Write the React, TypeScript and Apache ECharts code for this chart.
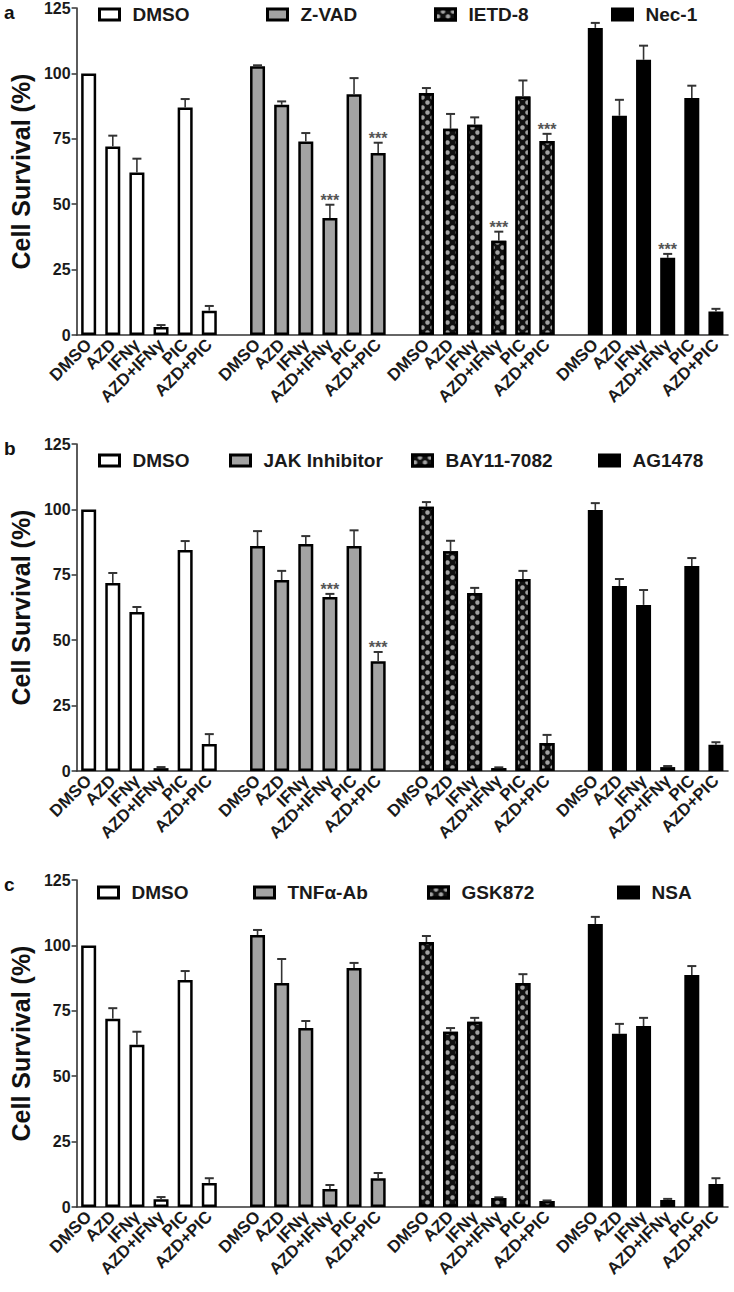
import React, { useEffect, useRef } from 'react';
import * as echarts from 'echarts';

const CONDITIONS = ['DMSO', 'AZD', 'IFNγ', 'AZD+IFNγ', 'PIC', 'AZD+PIC'];
const Y_TICKS = [0, 25, 50, 75, 100, 125];

// Panel a
const A_GROUPS = ['DMSO', 'Z-VAD', 'IETD-8', 'Nec-1'];
const A_DMSO = [100, 72.1, 62.1, 3.1, 87.0, 9.3];
const A_DMSO_ERR = [0, 4.1, 5.3, 0.7, 3.2, 1.8];
const A_ZVAD = [102.7, 88.0, 74.0, 44.7, 92.0, 69.6];
const A_ZVAD_ERR = [0.4, 1.3, 3.2, 5.1, 6.2, 3.9];
const A_IETD = [92.5, 78.8, 80.4, 36.0, 91.2, 74.2];
const A_IETD_ERR = [1.9, 5.7, 2.8, 3.5, 6.1, 2.7];
const A_NEC = [117.4, 83.8, 105.2, 29.5, 90.6, 9.0];
const A_NEC_ERR = [1.9, 6.1, 5.4, 1.5, 4.7, 1.0];
const A_STARS = [[], [3, 5], [3, 5], [3]];

// Panel b
const B_GROUPS = ['DMSO', 'JAK Inhibitor', 'BAY11-7082', 'AG1478'];
const B_DMSO = [100, 71.9, 60.8, 1.1, 84.5, 10.3];
const B_DMSO_ERR = [0, 3.8, 1.9, 0.4, 3.4, 3.8];
const B_JAK = [86.0, 73.0, 86.8, 66.5, 86.0, 42.0];
const B_JAK_ERR = [5.7, 3.5, 3.0, 1.2, 6.0, 3.5];
const B_BAY = [101.0, 84.0, 68.0, 1.1, 73.4, 10.7];
const B_BAY_ERR = [1.8, 4.0, 2.0, 0.3, 3.1, 3.1];
const B_AG = [99.8, 70.7, 63.5, 1.5, 78.4, 10.0];
const B_AG_ERR = [2.6, 2.7, 5.7, 0.4, 3.0, 1.0];
const B_STARS = [[], [3, 5], [], []];

// Panel c
const C_GROUPS = ['DMSO', 'TNFα-Ab', 'GSK872', 'NSA'];
const C_DMSO = [100, 72.0, 62.0, 3.0, 86.8, 9.2];
const C_DMSO_ERR = [0, 4.0, 5.0, 0.8, 3.4, 1.8];
const C_TNF = [104.0, 85.6, 68.4, 6.9, 91.4, 11.0];
const C_TNF_ERR = [1.9, 9.2, 2.7, 1.5, 1.9, 2.0];
const C_GSK = [101.3, 67.0, 70.8, 3.4, 85.6, 2.3];
const C_GSK_ERR = [2.3, 1.4, 1.5, 0.3, 3.4, 0.2];
const C_NSA = [108.2, 66.2, 69.2, 2.7, 88.7, 8.8];
const C_NSA_ERR = [2.7, 3.8, 3.1, 0.4, 3.4, 2.2];
const C_STARS = [[], [], [], []];

const FONT = '"Liberation Sans", Arial, Helvetica, sans-serif';

const PANELS = [
  {
    letter: 'a', top: 8, groups: A_GROUPS,
    values: [A_DMSO, A_ZVAD, A_IETD, A_NEC],
    errs: [A_DMSO_ERR, A_ZVAD_ERR, A_IETD_ERR, A_NEC_ERR],
    stars: A_STARS, legendLeft: [98, 266, 434, 611], legendCenter: 16,
  },
  {
    letter: 'b', top: 444, groups: B_GROUPS,
    values: [B_DMSO, B_JAK, B_BAY, B_AG],
    errs: [B_DMSO_ERR, B_JAK_ERR, B_BAY_ERR, B_AG_ERR],
    stars: B_STARS, legendLeft: [98, 229, 411, 598], legendCenter: 462,
  },
  {
    letter: 'c', top: 880, groups: C_GROUPS,
    values: [C_DMSO, C_TNF, C_GSK, C_NSA],
    errs: [C_DMSO_ERR, C_TNF_ERR, C_GSK_ERR, C_NSA_ERR],
    stars: C_STARS, legendLeft: [97, 253, 427, 617], legendCenter: 894,
  },
];

const GROUP_STYLES = [
  { color: '#ffffff' },
  { color: '#a3a3a3' },
  {
    color: '#111111',
    decal: {
      symbol: 'circle',
      symbolSize: 0.9,
      color: '#a2a2a2',
      dashArrayX: [[5, 5], [0, 5, 5, 0]],
      dashArrayY: [4.5, 0],
      rotation: 0,
    },
  },
  { color: '#000000' },
];

const CATEGORY_LABELS: string[] = [];
for (let g = 0; g < 4; g++) {
  for (let c = 0; c < CONDITIONS.length; c++) CATEGORY_LABELS.push(CONDITIONS[c]);
  if (g < 3) CATEGORY_LABELS.push('');
}

function buildOption() {
  const grid: any[] = [];
  const xAxis: any[] = [];
  const yAxis: any[] = [];
  const series: any[] = [];
  const legend: any[] = [];
  const graphic: any[] = [];

  PANELS.forEach((p, pi) => {
    grid.push({ left: 70, width: 658, top: p.top, height: 327 });
    xAxis.push({
      type: 'category',
      gridIndex: pi,
      data: CATEGORY_LABELS,
      boundaryGap: true,
      axisLine: { lineStyle: { color: '#333', width: 1.6 } },
      axisTick: { alignWithLabel: true, interval: 0, length: 5, lineStyle: { color: '#333', width: 1.5 } },
      axisLabel: {
        interval: 0, rotate: 45, margin: 7,
        fontFamily: FONT, fontWeight: 'bold', fontSize: 17, color: '#1a1a1a',
      },
      splitLine: { show: false },
    });
    yAxis.push({
      type: 'value',
      gridIndex: pi,
      min: Y_TICKS[0],
      max: Y_TICKS[Y_TICKS.length - 1],
      interval: 25,
      name: 'Cell Survival (%)',
      nameLocation: 'middle',
      nameRotate: 90,
      nameGap: 41,
      nameTextStyle: { fontFamily: FONT, fontWeight: 'bold', fontSize: 25, color: '#111' },
      axisLine: { show: true, lineStyle: { color: '#333', width: 1.6 } },
      axisTick: { show: true, length: 5, lineStyle: { color: '#333', width: 1.5 } },
      axisLabel: { fontFamily: FONT, fontWeight: 'bold', fontSize: 16, color: '#1a1a1a', margin: 6 },
      splitLine: { show: false },
    });

    const errData: any[] = [];
    p.groups.forEach((gname, g) => {
      const data: any[] = CATEGORY_LABELS.map(() => '-');
      p.values[g].forEach((v, c) => {
        const idx = g * 7 + c;
        data[idx] = v;
        const e = p.errs[g][c];
        errData.push([idx, v, v + e, p.stars[g].includes(c) ? 1 : 0]);
      });
      series.push({
        type: 'bar',
        name: gname,
        xAxisIndex: pi,
        yAxisIndex: pi,
        data,
        barWidth: 15,
        barGap: '-100%',
        itemStyle: { ...GROUP_STYLES[g], borderColor: '#000', borderWidth: 2.5 },
        z: 2,
      });
      legend.push({
        data: [gname],
        left: p.legendLeft[g],
        top: p.legendCenter - 11,
        padding: 0,
        icon: 'rect',
        itemWidth: 20,
        itemHeight: 11,
        selectedMode: false,
        itemStyle: { borderColor: '#000', borderWidth: 3 },
        textStyle: { fontFamily: FONT, fontWeight: 'bold', fontSize: 19, color: '#1a1a1a', padding: [0, 0, 0, 8] },
      });
    });

    series.push({
      type: 'custom',
      name: 'err-' + p.letter,
      xAxisIndex: pi,
      yAxisIndex: pi,
      data: errData,
      encode: { x: 0, y: [1, 2] },
      z: 5,
      silent: true,
      renderItem: (params: any, api: any) => {
        const x = api.value(0);
        const m = api.value(1);
        const t = api.value(2);
        const s = api.value(3);
        const p0 = api.coord([x, m]);
        const p1 = api.coord([x, t]);
        const children: any[] = [];
        if (t > m) {
          children.push({
            type: 'line',
            shape: { x1: p0[0], y1: p0[1], x2: p1[0], y2: p1[1] },
            style: { stroke: '#333', lineWidth: 1.6 },
          });
          children.push({
            type: 'line',
            shape: { x1: p1[0] - 4.5, y1: p1[1], x2: p1[0] + 4.5, y2: p1[1] },
            style: { stroke: '#333', lineWidth: 2 },
          });
        }
        if (s) {
          children.push({
            type: 'text',
            x: p1[0],
            y: p1[1] - 4,
            style: {
              text: '***', align: 'center', verticalAlign: 'middle',
              font: 'bold 16px ' + FONT, fill: '#555',
            },
          });
        }
        return { type: 'group', children };
      },
    });

    graphic.push({
      type: 'text',
      left: 4,
      top: p.top - 5,
      style: { text: p.letter, font: 'bold 19px ' + FONT, fill: '#111' },
    });
  });

  return { animation: false, backgroundColor: '#ffffff', grid, xAxis, yAxis, series, legend, graphic };
}

export default function App() {
  const ref = useRef<HTMLDivElement>(null);
  useEffect(() => {
    if (!ref.current) return;
    const chart = echarts.init(ref.current, null, { renderer: 'svg' });
    chart.setOption(buildOption() as any);
    return () => chart.dispose();
  }, []);
  return (
    <div
      ref={ref}
      style={{ position: 'absolute', left: 0, top: 0, width: 734, height: 1292, background: '#fff' }}
    />
  );
}
